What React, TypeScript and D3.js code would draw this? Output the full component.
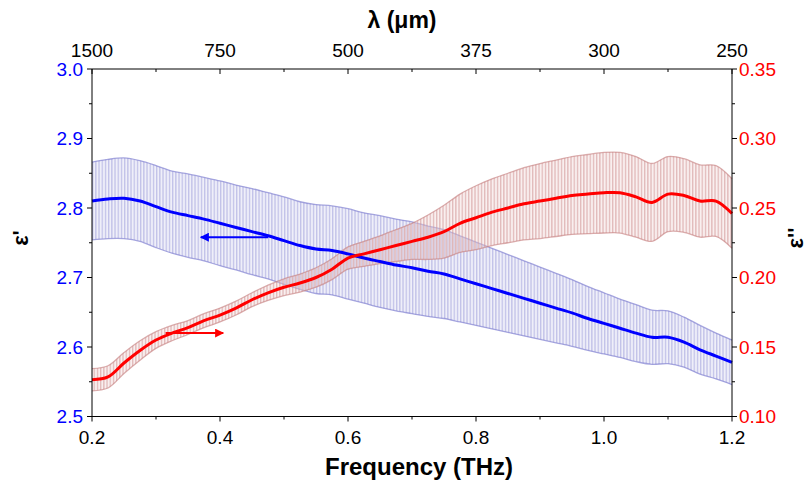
import React from 'react';
import * as d3 from 'd3';

const freq = [0.2, 0.225, 0.25, 0.275, 0.3, 0.325, 0.35, 0.375, 0.4, 0.425, 0.45, 0.475, 0.5, 0.525, 0.55, 0.575, 0.6, 0.625, 0.65, 0.675, 0.7, 0.725, 0.75, 0.775, 0.8, 0.825, 0.85, 0.875, 0.9, 0.925, 0.95, 0.975, 1.0, 1.025, 1.05, 1.075, 1.1, 1.125, 1.15, 1.175, 1.2];
const epsReal = [2.810, 2.813, 2.814, 2.810, 2.802, 2.794, 2.789, 2.784, 2.778, 2.772, 2.766, 2.760, 2.753, 2.746, 2.741, 2.739, 2.734, 2.728, 2.723, 2.718, 2.714, 2.709, 2.705, 2.698, 2.691, 2.684, 2.677, 2.670, 2.663, 2.656, 2.649, 2.641, 2.634, 2.627, 2.620, 2.614, 2.614, 2.607, 2.596, 2.587, 2.578];
const epsRealErr = [0.056, 0.057, 0.058, 0.058, 0.059, 0.059, 0.060, 0.060, 0.061, 0.061, 0.062, 0.062, 0.063, 0.063, 0.064, 0.064, 0.065, 0.065, 0.066, 0.066, 0.066, 0.065, 0.064, 0.062, 0.060, 0.058, 0.056, 0.054, 0.052, 0.050, 0.048, 0.046, 0.044, 0.042, 0.041, 0.039, 0.038, 0.036, 0.035, 0.033, 0.032];
const epsImag = [0.1265, 0.1285, 0.1385, 0.1475, 0.155, 0.160, 0.164, 0.169, 0.173, 0.178, 0.184, 0.189, 0.193, 0.196, 0.200, 0.206, 0.214, 0.217, 0.220, 0.223, 0.226, 0.229, 0.233, 0.239, 0.243, 0.247, 0.250, 0.253, 0.255, 0.257, 0.259, 0.260, 0.261, 0.261, 0.258, 0.254, 0.260, 0.259, 0.255, 0.255, 0.246];
const epsImagErr = [0.008, 0.008, 0.0075, 0.007, 0.006, 0.0055, 0.005, 0.005, 0.005, 0.005, 0.005, 0.0055, 0.006, 0.0065, 0.007, 0.0075, 0.008, 0.009, 0.010, 0.0115, 0.013, 0.016, 0.019, 0.021, 0.023, 0.024, 0.025, 0.026, 0.027, 0.0275, 0.028, 0.0285, 0.029, 0.029, 0.029, 0.028, 0.027, 0.0265, 0.026, 0.0255, 0.025];

const bottomTicks = [0.2, 0.4, 0.6, 0.8, 1.0, 1.2];
const bottomMinor = [0.3, 0.5, 0.7, 0.9, 1.1];
const topTicks = [1500, 750, 500, 375, 300, 250];
const topMinor = [1000, 600, 3000 / 7, 1000 / 3, 3000 / 11];
const leftTicks = [2.5, 2.6, 2.7, 2.8, 2.9, 3.0];
const leftMinor = [2.55, 2.65, 2.75, 2.85, 2.95];
const rightTicks = [0.10, 0.15, 0.20, 0.25, 0.30, 0.35];
const rightMinor = [0.125, 0.175, 0.225, 0.275, 0.325];

const blueArrow = { from: 0.475, to: 0.37, y: 2.758 };
const redArrow = { from: 0.315, to: 0.405, y: 0.1600 };

const W = 811, H = 486;
const L = 92, R = 732, T = 69, B = 416.5;

export default function App() {
  const x = d3.scaleLinear().domain([0.2, 1.2]).range([L, R]);
  const yL = d3.scaleLinear().domain([2.5, 3.0]).range([B, T]);
  const yR = d3.scaleLinear().domain([0.10, 0.35]).range([B, T]);
  const lam2x = (l: number) => x(300 / l);

  const idx = freq.map((_, i) => i);
  const curve = d3.curveCatmullRom.alpha(0.5);

  const blueArea = d3.area<number>().x(i => x(freq[i])).y0(i => yL(epsReal[i] - epsRealErr[i])).y1(i => yL(epsReal[i] + epsRealErr[i])).curve(curve)(idx) || '';
  const blueUp = d3.line<number>().x(i => x(freq[i])).y(i => yL(epsReal[i] + epsRealErr[i])).curve(curve)(idx) || '';
  const blueLo = d3.line<number>().x(i => x(freq[i])).y(i => yL(epsReal[i] - epsRealErr[i])).curve(curve)(idx) || '';
  const blueLine = d3.line<number>().x(i => x(freq[i])).y(i => yL(epsReal[i])).curve(curve)(idx) || '';

  const redArea = d3.area<number>().x(i => x(freq[i])).y0(i => yR(epsImag[i] - epsImagErr[i])).y1(i => yR(epsImag[i] + epsImagErr[i])).curve(curve)(idx) || '';
  const redUp = d3.line<number>().x(i => x(freq[i])).y(i => yR(epsImag[i] + epsImagErr[i])).curve(curve)(idx) || '';
  const redLo = d3.line<number>().x(i => x(freq[i])).y(i => yR(epsImag[i] - epsImagErr[i])).curve(curve)(idx) || '';
  const redLine = d3.line<number>().x(i => x(freq[i])).y(i => yR(epsImag[i])).curve(curve)(idx) || '';

  const font = "'Liberation Sans', Arial, sans-serif";
  const tickFs = 19;

  return (
    <svg width={W} height={H} style={{ position: 'absolute', left: 0, top: 0, background: '#fff' }} fontFamily={font}>
      <defs>
        <pattern id="pb" patternUnits="userSpaceOnUse" width={3.2} height={10} x={L}>
          <rect x={0} y={0} width={3.2} height={10} fill="rgba(215,215,240,0.4)" />
          <rect x={0} y={0} width={1.3} height={10} fill="rgba(155,155,218,0.55)" />
        </pattern>
        <pattern id="pr" patternUnits="userSpaceOnUse" width={3.2} height={10} x={L + 1.6}>
          <rect x={0} y={0} width={3.2} height={10} fill="rgba(240,215,215,0.4)" />
          <rect x={0} y={0} width={1.3} height={10} fill="rgba(205,140,140,0.55)" />
        </pattern>
        <marker id="ab" viewBox="0 0 10 10" refX={9} refY={5} markerWidth={6} markerHeight={4.5} orient="auto" markerUnits="strokeWidth">
          <path d="M0,0 L10,5 L0,10 Z" fill="#0000ff" />
        </marker>
        <marker id="ar" viewBox="0 0 10 10" refX={9} refY={5} markerWidth={6} markerHeight={4.5} orient="auto" markerUnits="strokeWidth">
          <path d="M0,0 L10,5 L0,10 Z" fill="#ff0000" />
        </marker>
      </defs>

      {/* bands */}
      <path d={blueArea} fill="url(#pb)" />
      <path d={blueUp} fill="none" stroke="rgba(130,130,210,0.7)" strokeWidth={1.3} />
      <path d={blueLo} fill="none" stroke="rgba(130,130,210,0.7)" strokeWidth={1.3} />
      <path d={redArea} fill="url(#pr)" />
      <path d={redUp} fill="none" stroke="rgba(200,130,130,0.65)" strokeWidth={1.3} />
      <path d={redLo} fill="none" stroke="rgba(200,130,130,0.65)" strokeWidth={1.3} />

      {/* main curves */}
      <path d={blueLine} fill="none" stroke="#0000ff" strokeWidth={3} />
      <path d={redLine} fill="none" stroke="#ff0000" strokeWidth={3} />

      {/* arrows */}
      <line x1={x(blueArrow.from)} x2={x(blueArrow.to)} y1={yL(blueArrow.y)} y2={yL(blueArrow.y)} stroke="#0000ff" strokeWidth={2} markerEnd="url(#ab)" />
      <line x1={x(redArrow.from)} x2={x(redArrow.to)} y1={yR(redArrow.y)} y2={yR(redArrow.y)} stroke="#ff0000" strokeWidth={2} markerEnd="url(#ar)" />

      {/* axes lines */}
      <g stroke="#000" strokeWidth={1} fill="none">
        <line x1={L} x2={R} y1={B} y2={B} />
        <line x1={L} x2={R} y1={T} y2={T} />
        <line x1={L} x2={L} y1={T} y2={B} />
        <line x1={R} x2={R} y1={T} y2={B} />
        {bottomTicks.map(t => <line key={'bt' + t} x1={x(t)} x2={x(t)} y1={B} y2={B + 5} />)}
        {bottomMinor.map(t => <line key={'bm' + t} x1={x(t)} x2={x(t)} y1={B} y2={B + 3} />)}
        {topTicks.map(t => <line key={'tt' + t} x1={lam2x(t)} x2={lam2x(t)} y1={T} y2={T + 5} />)}
        {topMinor.map(t => <line key={'tm' + t} x1={lam2x(t)} x2={lam2x(t)} y1={T} y2={T + 3} />)}
        {leftTicks.map(t => <line key={'lt' + t} x1={L - 5} x2={L} y1={yL(t)} y2={yL(t)} />)}
        {leftMinor.map(t => <line key={'lm' + t} x1={L - 3} x2={L} y1={yL(t)} y2={yL(t)} />)}
        {rightTicks.map(t => <line key={'rt' + t} x1={R} x2={R + 5} y1={yR(t)} y2={yR(t)} />)}
        {rightMinor.map(t => <line key={'rm' + t} x1={R} x2={R + 3} y1={yR(t)} y2={yR(t)} />)}
      </g>

      {/* tick labels */}
      <g fontSize={tickFs} fill="#000" textAnchor="middle">
        {bottomTicks.map(t => <text key={'btl' + t} x={x(t)} y={B + 27}>{t.toFixed(1)}</text>)}
        {topTicks.map(t => <text key={'ttl' + t} x={lam2x(t)} y={T - 12}>{t}</text>)}
      </g>
      <g fontSize={tickFs} fill="#0000ff" textAnchor="end">
        {leftTicks.map(t => <text key={'ltl' + t} x={L - 9} y={yL(t)} dy="0.35em">{t.toFixed(1)}</text>)}
      </g>
      <g fontSize={tickFs} fill="#ff0000" textAnchor="start">
        {rightTicks.map(t => <text key={'rtl' + t} x={R + 7} y={yR(t)} dy="0.35em">{t.toFixed(2)}</text>)}
      </g>

      {/* axis titles */}
      <text x={419} y={475} fontSize={24} fontWeight="bold" textAnchor="middle">Frequency (THz)</text>
      <text x={402} y={28} fontSize={23} fontWeight="bold" textAnchor="middle">λ (μm)</text>
      <text transform={`translate(28, 238) rotate(-90)`} fontSize={22} fontWeight="bold" textAnchor="middle">ε'</text>
      <text transform={`translate(803, 238) rotate(-90)`} fontSize={22} fontWeight="bold" textAnchor="middle">ε''</text>
    </svg>
  );
}
